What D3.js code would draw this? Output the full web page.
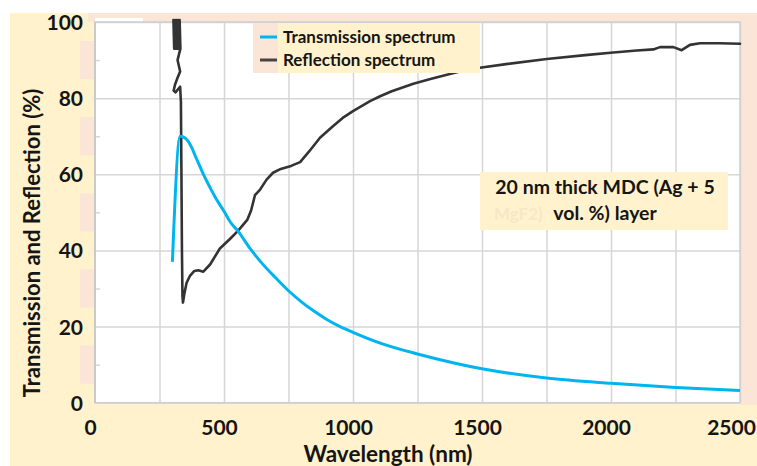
<!DOCTYPE html>
<html>
<head>
<meta charset="utf-8">
<script src="https://cdn.jsdelivr.net/npm/d3@7"></script>
<style>
  html, body { margin: 0; padding: 0; background: #ffffff; }
  svg { display: block; font-family: Lato, "Open Sans", sans-serif; font-weight: 700; }
</style>
</head>
<body>
<svg id="chart" width="757" height="466"></svg>
<script>
// Wavelength (nm) / transmission (%) of the 20 nm MDC layer
const transWavelength = [300, 330, 345, 360, 375, 390, 407, 425, 446, 470, 500, 525, 555, 600, 650, 700, 750, 800, 850, 900, 950, 1000, 1100, 1250, 1400, 1500, 1750, 2000, 2250, 2500];
const transValues     = [37, 70, 69.7, 68.8, 67.0, 64.6, 62.0, 59.3, 56.5, 53.5, 50.3, 47.4, 45.0, 40.6, 36.4, 32.8, 29.4, 26.5, 24.0, 21.8, 20.0, 18.5, 15.8, 12.8, 10.3, 8.9, 6.5, 5.1, 4.0, 3.2];

// Wavelength (nm) / reflection (%); the UV edge is noisy and overshoots the scale
const reflWavelength = [304, 307, 310, 313, 316, 319, 322, 325, 328, 331, 320, 330, 318, 310, 305, 312, 330, 333, 335, 337, 339, 341, 346, 355, 368, 385, 400, 420, 446, 484, 523, 555, 590, 605, 620, 640, 665, 690, 720, 760, 795, 830, 872, 920, 960, 1000, 1066, 1105, 1150, 1234, 1300, 1402, 1492, 1600, 1751, 1900, 2009, 2100, 2164, 2190, 2242, 2274, 2306, 2345, 2420, 2500];
const reflValues     = [100.5, 93, 100.5, 93, 100.5, 93, 100.5, 93, 100.5, 93, 90, 87, 85, 83.5, 82, 81.5, 83, 79, 60, 40, 28, 26.3, 28.5, 31.5, 33.3, 34.6, 34.8, 34.4, 36.3, 40.5, 43, 45.2, 48, 50.5, 54.5, 56, 58.6, 60.4, 61.4, 62.2, 63.2, 66, 69.6, 72.5, 74.8, 76.6, 79.2, 80.5, 81.8, 83.8, 85, 86.8, 88, 89, 90.3, 91.3, 92, 92.5, 92.8, 93.4, 93.4, 92.6, 94.0, 94.4, 94.4, 94.3];

// Axis ticks
const xTicks = [0, 500, 1000, 1500, 2000, 2500];
const xGrid = [250, 500, 750, 1000, 1250, 1500, 1750, 2000, 2250, 2500];
const yTicks = [0, 20, 40, 60, 80, 100];
const yMinor = [10, 30, 50, 70, 90];

const seriesNames = ["Transmission spectrum", "Reflection spectrum"];
const noteLines = ["20 nm thick MDC (Ag + 5", "vol. %) layer"];

const svg = d3.select("#chart");
const x = d3.scaleLinear().domain([0, 2500]).range([95, 740]);
const y = d3.scaleLinear().domain([0, 100]).range([402.7, 22]);

const BEIGE = "#fff2cc", PINK = "#fbe5d6";

// chart area panels
svg.append("rect").attr("x", 10).attr("y", 13).attr("width", 747).attr("height", 453).attr("fill", BEIGE);
svg.append("rect").attr("x", 88).attr("y", 13).attr("width", 669).attr("height", 9).attr("fill", PINK);
svg.append("rect").attr("x", 740).attr("y", 13).attr("width", 17).attr("height", 392).attr("fill", PINK);
svg.append("rect").attr("x", 80).attr("y", 22).attr("width", 15).attr("height", 381).attr("fill", PINK);
// label backings along the value axis
svg.append("g").selectAll("rect").data(yTicks).join("rect")
  .attr("x", 40).attr("width", 55)
  .attr("y", d => Math.max(22, y(d) - 19))
  .attr("height", d => Math.min(y(d) + 19, 402.7) - Math.max(22, y(d) - 19) + (d === 0 ? 8 : 0))
  .attr("fill", BEIGE);

// plot area
svg.append("rect").attr("x", x(0)).attr("y", y(100)).attr("width", x(2500) - x(0)).attr("height", y(0) - y(100)).attr("fill", "#ffffff");
svg.append("rect").attr("x", x(0)).attr("y", 18).attr("width", 48).attr("height", 5).attr("fill", "#ffffff");

// grid
const gridColor = "#d6d6d6";
const gx = svg.append("g").attr("transform", `translate(0,${y(0)})`)
  .call(d3.axisBottom(x).tickValues(xGrid).tickSize(-(y(0) - y(100))).tickFormat(""));
gx.select(".domain").remove();
gx.selectAll("line").attr("stroke", gridColor).attr("stroke-width", 1.5);

const gy = svg.append("g").attr("transform", `translate(${x(0)},0)`)
  .call(d3.axisLeft(y).tickValues(yTicks).tickSize(-(x(2500) - x(0))).tickFormat(""));
gy.select(".domain").remove();
gy.selectAll("line").attr("stroke", gridColor).attr("stroke-width", 1.5);

const gm = svg.append("g").attr("transform", `translate(${x(0)},0)`)
  .call(d3.axisLeft(y).tickValues(yMinor).tickSize(-5).tickFormat(""));
gm.select(".domain").remove();
gm.selectAll("line").attr("stroke", gridColor).attr("stroke-width", 1.5);

// frame
svg.append("rect").attr("x", x(0)).attr("y", y(100)).attr("width", x(2500) - x(0)).attr("height", y(0) - y(100))
  .attr("fill", "none").attr("stroke", "#d0d0d0").attr("stroke-width", 1.5);
svg.append("line").attr("x1", x(0)).attr("x2", x(0)).attr("y1", y(100)).attr("y2", y(0)).attr("stroke", "#c4c4c4").attr("stroke-width", 1.5);

// tick labels
const ax = svg.append("g").attr("transform", `translate(0,${y(0)})`)
  .call(d3.axisBottom(x).tickValues(xTicks).tickSize(0).tickPadding(0).tickFormat(d3.format("d")));
ax.select(".domain").remove();
ax.selectAll("text").attr("dx", d => d === 2500 ? -9 : -5).attr("y", 32).attr("dy", 0)
  .attr("font-size", 21).attr("font-family", "Lato").attr("font-weight", 700).attr("fill", "#151515");

const ay = svg.append("g").attr("transform", "translate(83,0)")
  .call(d3.axisLeft(y).tickValues(yTicks).tickSize(0).tickPadding(0).tickFormat(d3.format("d")));
ay.select(".domain").remove();
ay.selectAll("text").attr("x", 0).attr("dy", "0.36em")
  .attr("font-size", 21).attr("font-family", "Lato").attr("font-weight", 700).attr("fill", "#151515");

// axis titles
svg.append("text").attr("x", 388).attr("y", 462).attr("text-anchor", "middle")
  .attr("font-size", 22.5).attr("fill", "#151515").text("Wavelength (nm)");
svg.append("text").attr("transform", "translate(40,243) rotate(-90)").attr("text-anchor", "middle")
  .attr("font-size", 22).attr("fill", "#151515").text("Transmission and Reflection (%)");

// series
const transData = transWavelength.map((w, i) => [w, transValues[i]]);
const reflData = reflWavelength.map((w, i) => [w, reflValues[i]]);
const line = d3.line().x(d => x(d[0])).y(d => y(d[1]));
const smooth = d3.line().x(d => x(d[0])).y(d => y(d[1])).curve(d3.curveMonotoneX);

svg.append("path").datum(reflData).attr("d", line).attr("fill", "none")
  .attr("stroke", "#333333").attr("stroke-width", 2.6).attr("stroke-linejoin", "round").attr("stroke-linecap", "round");
svg.append("path").datum(transData).attr("d", smooth).attr("fill", "none")
  .attr("stroke", "#00b4f0").attr("stroke-width", 3).attr("stroke-linejoin", "round");

// legend
const leg = svg.append("g");
leg.append("rect").attr("x", 253).attr("y", 23).attr("width", 227).attr("height", 50).attr("fill", PINK);
leg.append("rect").attr("x", 278).attr("y", 23).attr("width", 202).attr("height", 50).attr("fill", BEIGE);
const legColors = ["#00b4f0", "#444444"];
seriesNames.forEach((name, i) => {
  const cy = 37 + i * 23;
  leg.append("line").attr("x1", 260).attr("x2", 277).attr("y1", cy).attr("y2", cy)
    .attr("stroke", legColors[i]).attr("stroke-width", 3);
  leg.append("text").attr("x", 283).attr("y", cy + 6).attr("font-size", 17).attr("fill", "#151515").text(name);
});

// layer note
const note = svg.append("g");
note.append("rect").attr("x", 480).attr("y", 172).attr("width", 248).attr("height", 58).attr("fill", BEIGE);
note.append("text").attr("x", 494).attr("y", 220).attr("font-size", 17).attr("fill", "#f6e8c6").text("MgF2)");
noteLines.forEach((t, i) => {
  note.append("text").attr("x", 605).attr("y", 194 + i * 26).attr("text-anchor", "middle")
    .attr("font-size", 19.5).attr("fill", "#151515").text(t);
});
</script>
</body>
</html>
